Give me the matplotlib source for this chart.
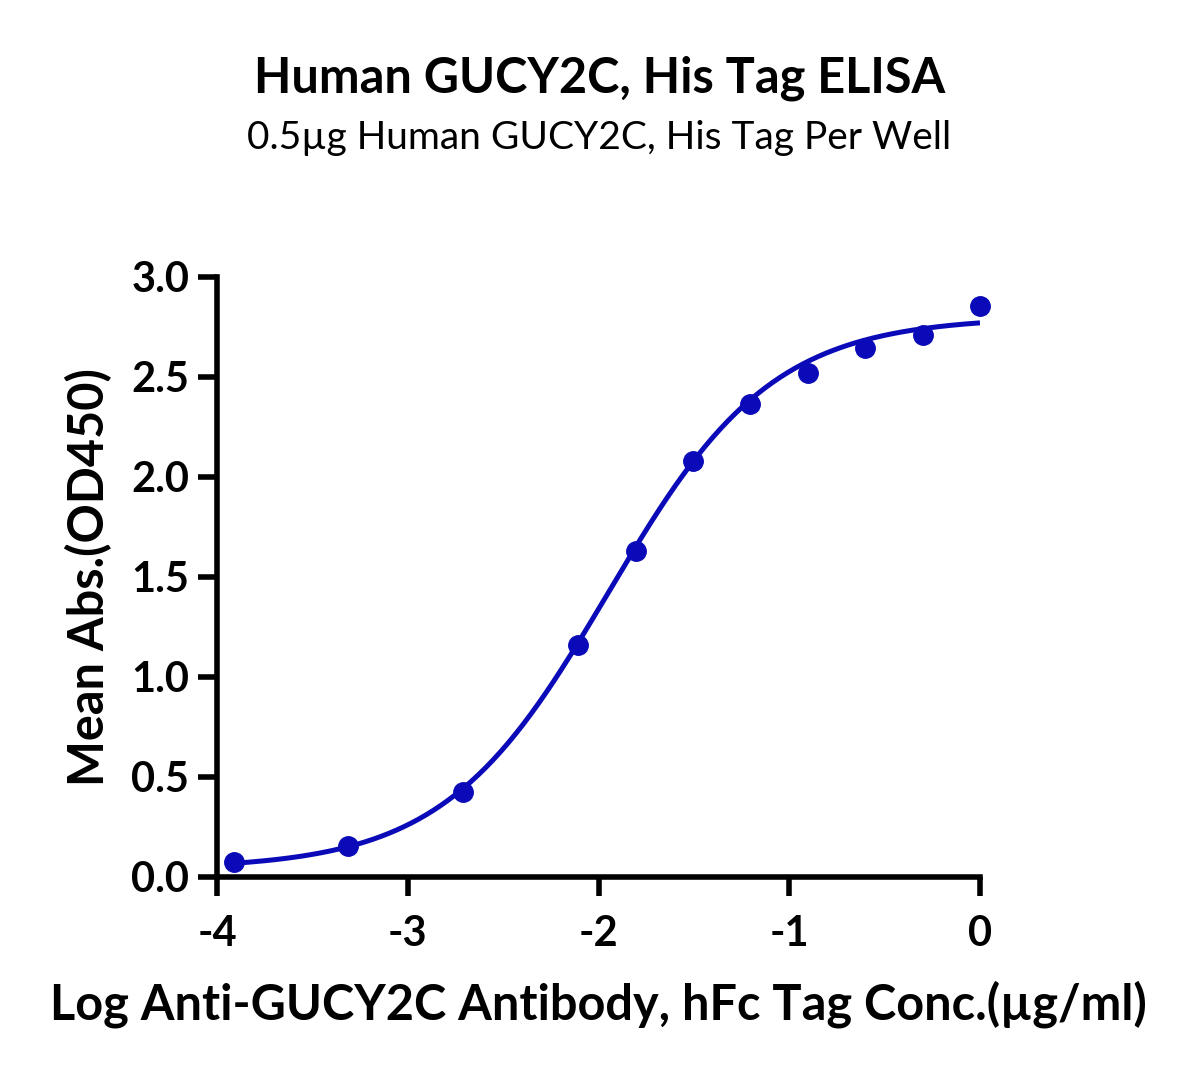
import matplotlib.pyplot as plt
import numpy as np

plt.rcParams['font.family'] = ['Lato', 'DejaVu Sans']

# measured points (log conc, OD450)
log_conc = [-3.913, -3.311, -2.709, -2.107, -1.806, -1.505, -1.204, -0.903, -0.602, -0.301, 0.0]
od450 = [0.075, 0.155, 0.425, 1.16, 1.63, 2.08, 2.365, 2.52, 2.645, 2.71, 2.855]

# 4PL fit parameters (bottom, top, logEC50, hill)
fit_bottom = 0.04
fit_top = 2.80
fit_logec50 = -1.95
fit_hill = 1.01

color = '#0A0AB8'

fig = plt.figure(figsize=(11.99, 10.76), dpi=100)
ax = fig.add_axes([217 / 1199, (1076 - 877) / 1076, (980 - 217) / 1199, 600 / 1076])

xx = np.linspace(log_conc[0], log_conc[-1], 300)
yy = fit_bottom + (fit_top - fit_bottom) / (1 + 10 ** ((fit_logec50 - xx) * fit_hill))
ax.plot(xx, yy, color=color, lw=3.6, zorder=2, solid_capstyle='butt')
ax.plot(log_conc, od450, 'o', color=color, ms=14, zorder=3, clip_on=False)

ax.set_xlim(-4, 0)
ax.set_ylim(0, 3)
ax.set_xticks([-4, -3, -2, -1, 0])
ax.set_xticklabels(['-4', '-3', '-2', '-1', '0'])
ax.set_yticks([0, 0.5, 1.0, 1.5, 2.0, 2.5, 3.0])
ax.set_yticklabels(['0.0', '0.5', '1.0', '1.5', '2.0', '2.5', '3.0'])

for s in ['top', 'right']:
    ax.spines[s].set_visible(False)
for s in ['left', 'bottom']:
    ax.spines[s].set_linewidth(4)
    ax.spines[s].set_capstyle('projecting')
ax.tick_params(width=4, length=14, labelsize=30)
ax.tick_params(axis='x', pad=13)
ax.tick_params(axis='y', pad=6)
for lab in ax.get_xticklabels() + ax.get_yticklabels():
    lab.set_fontweight('bold')

ax.set_xlabel('Log Anti-GUCY2C Antibody, hFc Tag Conc.(µg/ml)', fontsize=35, fontweight='bold', labelpad=20)
ax.set_ylabel('Mean Abs.(OD450)', fontsize=35, fontweight='bold', labelpad=14)

fig.text(0.5, 1 - 78 / 1076, 'Human GUCY2C, His Tag ELISA', ha='center', va='center', fontsize=35, fontweight='bold')
fig.text(0.5, 1 - 138 / 1076, '0.5µg Human GUCY2C, His Tag Per Well', ha='center', va='center', fontsize=28)

fig.savefig('out.png', dpi=100)
